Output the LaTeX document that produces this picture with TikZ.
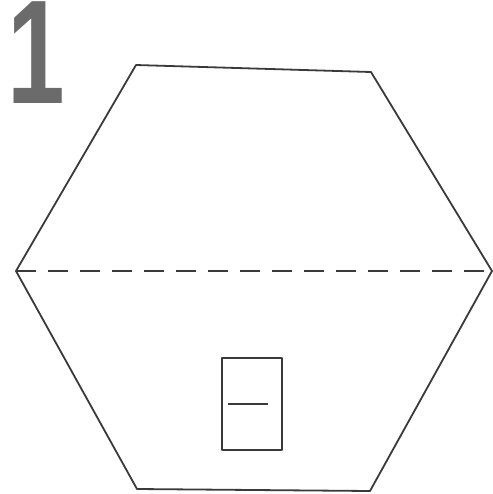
\documentclass[tikz,border=0pt]{standalone}
\usepackage{fontspec}
\setsansfont{Liberation Sans}
\usepackage{tikz}
\usetikzlibrary{positioning}

\definecolor{pencil}{HTML}{3A3A3A}
\definecolor{numgray}{HTML}{6B6B6B}

\tikzset{
    sketch/.style={draw=pencil, line width=0.9pt, line join=round},
    fold/.style={draw=pencil, line width=0.9pt, dash pattern=on 10pt off 6pt},
}

\begin{document}
\begin{tikzpicture}[x=0.5pt, y=-0.5pt]
        % Fix the page size (493 x 494 px)
        \useasboundingbox (0,0) rectangle (493,494);

        %%% Step number
            % Big gray digit in the top left corner
            \node[anchor=north west, inner sep=0pt, outer sep=0pt, text=numgray, font=\sffamily\bfseries\fontsize{74}{74}\selectfont, xscale=0.7] (stepNum) at (7,2) {1};

        %%% Hexagon
            % Define the six corners
            \coordinate (hexTopLeft) at (136,65);
            \coordinate (hexTopRight) at (371,72);
            \coordinate (hexRight) at (492,271);
            \coordinate (hexBottomRight) at (370,491);
            \coordinate (hexBottomLeft) at (137,489);
            \coordinate (hexLeft) at (16,271);

            % Draw the outline
            \draw[sketch] (hexTopLeft) -- (hexTopRight) -- (hexRight) -- (hexBottomRight) -- (hexBottomLeft) -- (hexLeft) -- cycle;

            % Dashed fold line between the side corners
            \draw[fold] (hexLeft) -- (hexRight);

        %%% Door
            % Define a node for the door
            \node[sketch, minimum width=30pt, minimum height=46pt, inner sep=0pt, outer sep=0pt] (door) at (252,404) {};

            % Short line inside the door
            \coordinate (lineStart) at (228,404);
            \coordinate (lineEnd) at (268,404);
            \draw[sketch, line width=1.2pt] (lineStart) -- (lineEnd);
        \end{tikzpicture}
\end{document}
